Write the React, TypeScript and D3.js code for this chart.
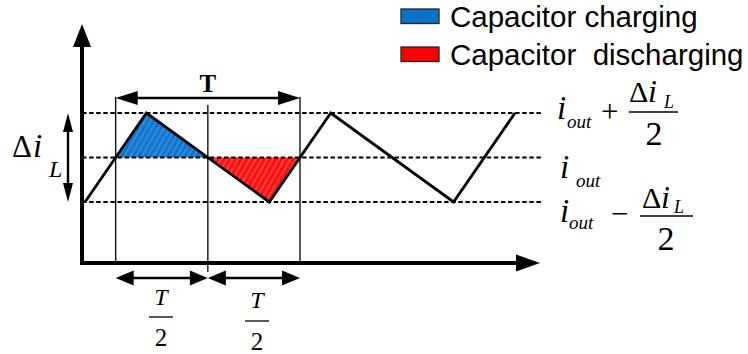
import React from "react";
import * as d3 from "d3";

// Inductor current waveform (time in units, current in units of ΔiL/2)
const waveT = [0, 2, 6, 8, 12, 14];
const waveI = [-1, 1, -1, 1, -1, 1];
// Reference current levels: iout + ΔiL/2, iout, iout − ΔiL/2
const levels = [1, 0, -1];
// Shaded regions
const chargeT = [1, 2, 4];
const chargeI = [0, 1, 0];
const dischargeT = [4, 6, 7];
const dischargeI = [0, -1, 0];
// Guide lines marking the start, half-period and end of one period
const guideT = [1, 4, 7];
const legendLabels = ["Capacitor charging", "Capacitor  discharging"];
const legendColors = ["#0a70c6", "#ff0000"];

const W = 748;
const H = 354;
const SANS = "Liberation Sans, Arial, sans-serif";
const SERIF = "Liberation Serif, Times New Roman, Times, DejaVu Serif, serif";

const serif = (size: number, italic = false, bold = false): React.CSSProperties => ({
  fontFamily: SERIF,
  fontSize: size,
  fontStyle: italic ? "italic" : "normal",
  fontWeight: bold ? "bold" : "normal",
});

export default function App() {
  const x = d3.scaleLinear().domain([0, 14]).range([85, 515]);
  const y = d3.scaleLinear().domain([-1, 1]).range([202, 113]);
  const axisX = 82;
  const axisY = 263;

  const line = d3
    .line<[number, number]>()
    .x((d) => x(d[0]))
    .y((d) => y(d[1]));
  const wave = waveT.map((t, i) => [t, waveI[i]] as [number, number]);
  const charge = chargeT.map((t, i) => [t, chargeI[i]] as [number, number]);
  const discharge = dischargeT.map((t, i) => [t, dischargeI[i]] as [number, number]);

  const [g0, g1, g2] = guideT.map((t) => x(t));

  // horizontal double-headed arrow
  const hArrow = (x1: number, x2: number, yy: number, hl: number, hw: number, sw: number, key: string) => (
    <g key={key}>
      <line x1={x1 + hl - 2} x2={x2 - hl + 2} y1={yy} y2={yy} stroke="#000" strokeWidth={sw} />
      <polygon points={`${x1},${yy} ${x1 + hl},${yy - hw / 2} ${x1 + hl},${yy + hw / 2}`} fill="#000" />
      <polygon points={`${x2},${yy} ${x2 - hl},${yy - hw / 2} ${x2 - hl},${yy + hw / 2}`} fill="#000" />
    </g>
  );

  return (
    <svg
      width={W}
      height={H}
      viewBox={`0 0 ${W} ${H}`}
      style={{ position: "absolute", left: 0, top: 0, background: "#fff" }}
    >
      <defs>
        <pattern id="hatchBlue" patternUnits="userSpaceOnUse" width={5} height={5} patternTransform="rotate(30)">
          <rect width={5} height={5} fill="#0f74cc" />
          <rect width={2} height={5} fill="#3189d8" />
        </pattern>
        <pattern id="hatchRed" patternUnits="userSpaceOnUse" width={5} height={5} patternTransform="rotate(30)">
          <rect width={5} height={5} fill="#ff1010" />
          <rect width={2} height={5} fill="#ff3f3f" />
        </pattern>
      </defs>

      {/* legend */}
      {legendLabels.map((lab, i) => (
        <g key={lab}>
          <rect
            x={401}
            y={9 + i * 38}
            width={38}
            height={14.5}
            fill={legendColors[i]}
            stroke="#222"
            strokeWidth={1.3}
          />
          <text
            x={450}
            y={27 + i * 38}
            style={{ fontFamily: SANS, fontSize: 29.5, whiteSpace: "pre" }}
            fill="#000"
          >
            {lab}
          </text>
        </g>
      ))}

      {/* shaded regions */}
      <path d={line(charge) + "Z"} fill="url(#hatchBlue)" />
      <path d={line(discharge) + "Z"} fill="url(#hatchRed)" />

      {/* dashed reference levels */}
      {levels.map((l) => (
        <line
          key={l}
          x1={axisX}
          x2={543}
          y1={y(l)}
          y2={y(l)}
          stroke="#000"
          strokeWidth={2}
          strokeDasharray="4.5 2.6"
        />
      ))}

      {/* guide lines */}
      <line x1={g0} x2={g0} y1={97} y2={axisY} stroke="#000" strokeWidth={1.3} />
      <line x1={g1} x2={g1} y1={105} y2={272} stroke="#000" strokeWidth={1.3} />
      <line x1={g2} x2={g2} y1={97} y2={axisY} stroke="#000" strokeWidth={1.3} />

      {/* waveform */}
      <path d={line(wave) ?? ""} fill="none" stroke="#000" strokeWidth={2.8} />

      {/* axes */}
      <line x1={axisX} x2={axisX} y1={axisY + 2} y2={45} stroke="#000" strokeWidth={4} />
      <polygon points={`${axisX - 9},47 ${axisX},24 ${axisX + 9},47`} fill="#000" />
      <line x1={axisX - 2} x2={518} y1={axisY} y2={axisY} stroke="#000" strokeWidth={4} />
      <polygon points={`516,${axisY - 8.5} 540,${axisY} 516,${axisY + 8.5}`} fill="#000" />

      {/* period arrow */}
      {hArrow(g0, g2, 98, 22, 14, 2.6, "T")}
      <text x={(g0 + g2) / 2} y={92} textAnchor="middle" style={serif(25, false, true)}>
        T
      </text>

      {/* half-period arrows */}
      {hArrow(g0, g1, 278, 18, 15, 2.4, "h1")}
      {hArrow(g1, g2, 278, 18, 15, 2.4, "h2")}

      {/* T/2 labels */}
      {[
        { cx: 161, tb: 305, by: 317, db: 346 },
        { cx: 257, tb: 308, by: 321, db: 350 },
      ].map((f, i) => (
        <g key={i}>
          <text x={f.cx} y={f.tb} textAnchor="middle" style={serif(24, true)}>
            T
          </text>
          <line x1={f.cx - 12} x2={f.cx + 12} y1={f.by} y2={f.by} stroke="#000" strokeWidth={1.3} />
          <text x={f.cx} y={f.db} textAnchor="middle" style={serif(25)}>
            2
          </text>
        </g>
      ))}

      {/* ΔiL marker on the left */}
      <line x1={68} x2={68} y1={128} y2={188} stroke="#000" strokeWidth={2.4} />
      <polygon points={`63,${y(1) + 19} 68,${y(1)} 73,${y(1) + 19}`} fill="#000" />
      <polygon points={`63,${y(-1) - 19} 68,${y(-1)} 73,${y(-1) - 19}`} fill="#000" />
      <text x={12} y={157} style={serif(31)}>
        Δ
      </text>
      <text x={33} y={157} style={serif(33, true)}>
        i
      </text>
      <text x={49} y={177} style={serif(24, true)}>
        L
      </text>

      {/* level labels: iout + ΔiL/2 */}
      <text x={557} y={119} style={serif(33, true)}>
        i
      </text>
      <text x={567} y={128} style={serif(19, true)}>
        out
      </text>
      <text x={601} y={122} style={serif(31)}>
        +
      </text>
      <text x={629} y={102} style={serif(30)}>
        Δ
      </text>
      <text x={648} y={102} style={serif(32, true)}>
        i
      </text>
      <text x={664} y={108} style={serif(18, true)}>
        L
      </text>
      <line x1={629} x2={678} y1={112} y2={112} stroke="#000" strokeWidth={1.4} />
      <text x={654} y={145} textAnchor="middle" style={serif(34)}>
        2
      </text>

      {/* iout */}
      <text x={560} y={178} style={serif(33, true)}>
        i
      </text>
      <text x={576} y={187} style={serif(19, true)}>
        out
      </text>

      {/* iout − ΔiL/2 */}
      <text x={560} y={222} style={serif(33, true)}>
        i
      </text>
      <text x={569} y={229} style={serif(19, true)}>
        out
      </text>
      <text x={611} y={224} style={serif(31)}>
        −
      </text>
      <text x={642} y={208} style={serif(30)}>
        Δ
      </text>
      <text x={661} y={208} style={serif(32, true)}>
        i
      </text>
      <text x={674} y={213} style={serif(18, true)}>
        L
      </text>
      <line x1={640} x2={693} y1={216} y2={216} stroke="#000" strokeWidth={1.4} />
      <text x={666} y={250} textAnchor="middle" style={serif(34)}>
        2
      </text>
    </svg>
  );
}
